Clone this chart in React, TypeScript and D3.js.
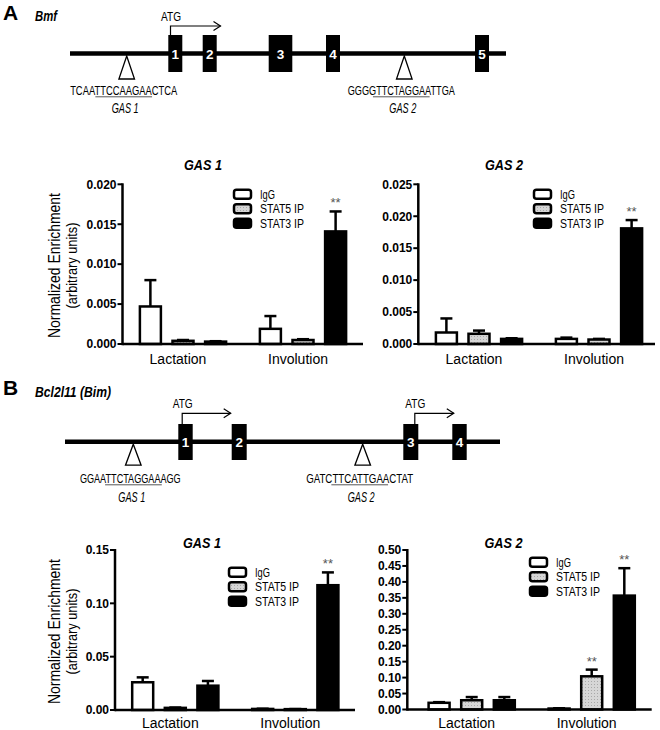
import React from "react";
import * as d3 from "d3";

// ---------- data ----------
const groups = ["Lactation", "Involution"];
const series = ["IgG", "STAT5 IP", "STAT3 IP"];

// order per array: [Lact IgG, Lact STAT5, Lact STAT3, Inv IgG, Inv STAT5, Inv STAT3]
const bmfGas1Mean = [0.0047, 0.0004, 0.0003, 0.0019, 0.0005, 0.0141];
const bmfGas1Sem = [0.0033, 0.0001, 0.00005, 0.0016, 0.0001, 0.0025];
const bmfGas1Sig = ["", "", "", "", "", "**"];

const bmfGas2Mean = [0.0018, 0.0016, 0.0008, 0.0008, 0.0007, 0.0181];
const bmfGas2Sem = [0.0022, 0.0005, 0.0001, 0.0002, 0.0001, 0.0013];
const bmfGas2Sig = ["", "", "", "", "", "**"];

const bimGas1Mean = [0.026, 0.002, 0.0228, 0.001, 0.0008, 0.117];
const bimGas1Sem = [0.0046, 0.0003, 0.0044, 0.0002, 0.0001, 0.012];
const bimGas1Sig = ["", "", "", "", "", "**"];

const bimGas2Mean = [0.021, 0.029, 0.029, 0.003, 0.104, 0.357];
const bimGas2Sem = [0.002, 0.01, 0.01, 0.001, 0.021, 0.086];
const bimGas2Sig = ["", "", "", "", "**", "**"];

const bmfTicks = [0, 0.005, 0.01, 0.015, 0.02];
const bmfTicks2 = [0, 0.005, 0.01, 0.015, 0.02, 0.025];
const bimTicks1 = [0, 0.05, 0.1, 0.15];
const bimTicks2 = [0, 0.05, 0.1, 0.15, 0.2, 0.25, 0.3, 0.35, 0.4, 0.45, 0.5];

// gene maps (positions along the gene line)
const bmfExons = [[98.3, 112.3], [132.7, 146.7], [198.7, 222.3], [256, 270], [405, 419]];
const bmfGasPos = [56.7, 334.3];
const bmfAtg = [100];
const bmfSeqs = [["TCAA", "TTCCAAGAA", "CTCA"], ["GGGG", "TTCTAGGAA", "TTGA"]];
const bmfLength = 436;

const bimExons = [[113.3, 127.7], [166.7, 181.7], [338.3, 353.3], [387.3, 401.7]];
const bimGasPos = [68.3, 297.7];
const bimAtg = [116.7, 349.3];
const bimSeqs = [["GGAA", "TTCTAGGAA", "AGG"], ["GATC", "TTCATTGAA", "CTAT"]];
const bimLength = 435;

const gasNames = ["GAS 1", "GAS 2"];

const FONT = "Arial, 'Liberation Sans', sans-serif";

type ChartCfg = {
  title: string;
  mean: number[];
  sem: number[];
  sig: string[];
  ticks: number[];
  fmt: string;
  axisX: number;
  yTop: number;
  yBottom: number;
  xEnd: number;
  groupStart: number;
  titleX: number;
  titleY: number;
  legendX: number;
  legendY: number;
  xLabelY: number;
  yLabel?: number;
};

const Chart = ({ c }: { c: ChartCfg }) => {
  const yMax = c.ticks[c.ticks.length - 1];
  const y = d3.scaleLinear().domain([0, yMax]).range([c.yBottom, c.yTop]);
  const xg = d3.scaleBand<string>().domain(groups).range([c.groupStart, c.groupStart + 240]);
  const xs = d3
    .scaleBand<string>()
    .domain(series)
    .range([0, xg.bandwidth()])
    .paddingInner(0.356)
    .paddingOuter(0.518);
  const fmt = d3.format(c.fmt);
  const fills = ["#ffffff", "url(#dots)", "#000000"];
  const legendLen = [15, 44, 44];
  const bars: any[] = [];
  groups.forEach((g, gi) =>
    series.forEach((s, si) => {
      const i = gi * 3 + si;
      bars.push({ g, s, si, m: c.mean[i], e: c.sem[i], sig: c.sig[i] });
    })
  );
  return (
    <g fontFamily={FONT}>
      <text
        x={c.titleX}
        y={c.titleY}
        fontSize={14.5}
        fontWeight="bold"
        fontStyle="italic"
        textAnchor="middle"
        textLength={38}
        lengthAdjust="spacingAndGlyphs"
      >
        {c.title}
      </text>
      {c.yLabel !== undefined && (
        <g>
          <text
            transform={`translate(60,${c.yLabel}) rotate(-90)`}
            fontSize={16.5}
            textAnchor="middle"
            textLength={145}
            lengthAdjust="spacingAndGlyphs"
          >
            Normalized Enrichment
          </text>
          <text
            transform={`translate(77,${c.yLabel}) rotate(-90)`}
            fontSize={14}
            textAnchor="middle"
            textLength={86}
            lengthAdjust="spacingAndGlyphs"
          >
            (arbitrary units)
          </text>
        </g>
      )}
      {bars.map((b, i) => {
        const x0 = (xg(b.g) as number) + (xs(b.s) as number);
        const w = xs.bandwidth();
        const cx = x0 + w / 2;
        const top = y(b.m);
        const et = y(b.m + b.e);
        return (
          <g key={i}>
            <line x1={cx} x2={cx} y1={top} y2={et} stroke="#000" strokeWidth={2.5} />
            <line x1={cx - 6} x2={cx + 6} y1={et} y2={et} stroke="#000" strokeWidth={2.5} />
            <rect
              x={x0}
              y={top}
              width={w}
              height={Math.max(0.3, c.yBottom - top)}
              fill={fills[b.si]}
              stroke="#000"
              strokeWidth={2.5}
            />
            {b.sig && (
              <text x={cx} y={et - 4} fontSize={13} fill="#555" textAnchor="middle">
                {b.sig}
              </text>
            )}
          </g>
        );
      })}
      <line x1={c.axisX} x2={c.axisX} y1={c.yTop - 1} y2={c.yBottom + 1.2} stroke="#000" strokeWidth={2.5} />
      <line x1={c.axisX} x2={c.xEnd} y1={c.yBottom} y2={c.yBottom} stroke="#000" strokeWidth={2.5} />
      {c.ticks.map((t) => (
        <g key={t}>
          <line x1={c.axisX - 5} x2={c.axisX} y1={y(t)} y2={y(t)} stroke="#000" strokeWidth={2} />
          <text x={c.axisX - 6} y={y(t) + 4.3} fontSize={12} fontWeight="bold" textAnchor="end">
            {fmt(t)}
          </text>
        </g>
      ))}
      {groups.map((g) => (
        <text
          key={g}
          x={(xg(g) as number) + xg.bandwidth() / 2 - 5}
          y={c.xLabelY}
          fontSize={14}
          textAnchor="middle"
        >
          {g}
        </text>
      ))}
      {series.map((s, si) => (
        <g key={s}>
          <rect
            x={c.legendX + 1}
            y={c.legendY + si * 14.5 - 4.5}
            width={17}
            height={9}
            rx={2.5}
            fill={fills[si]}
            stroke="#000"
            strokeWidth={2.5}
          />
          <text
            x={c.legendX + 27}
            y={c.legendY + si * 14.5 + 4.5}
            fontSize={12.5}
            textLength={legendLen[si]}
            lengthAdjust="spacingAndGlyphs"
          >
            {s}
          </text>
        </g>
      ))}
    </g>
  );
};

type MapCfg = {
  x0: number;
  lineY: number;
  length: number;
  exons: number[][];
  exonTop: number;
  exonBottom: number;
  gasPos: number[];
  atg: number[];
  seqs: string[][];
  seqBaseline: number;
  gasBaseline: number;
  atgY: number;
  atgLen: number[];
  triH: number;
};

const GeneMap = ({ m }: { m: MapCfg }) => {
  const x = d3.scaleLinear().domain([0, m.length]).range([m.x0, m.x0 + m.length]);
  return (
    <g fontFamily={FONT}>
      <line x1={x(0)} x2={x(m.length)} y1={m.lineY} y2={m.lineY} stroke="#000" strokeWidth={4.5} />
      {m.atg.map((a, i) => {
        const ax = x(a) + 0.5;
        const ex = ax + m.atgLen[i];
        return (
          <g key={i}>
            <path
              d={`M${ax},${m.exonTop} V${m.atgY} H${ex}`}
              fill="none"
              stroke="#000"
              strokeWidth={1.2}
            />
            <path d={`M${ex - 7},${m.atgY - 4.5} L${ex},${m.atgY} L${ex - 7},${m.atgY + 4.5}`} fill="none" stroke="#000" strokeWidth={1.2} />
            <text
              x={ax + 0.5}
              y={m.atgY - 5}
              fontSize={12}
              textAnchor="middle"
              textLength={20}
              lengthAdjust="spacingAndGlyphs"
            >
              ATG
            </text>
          </g>
        );
      })}
      {m.exons.map((e, i) => (
        <g key={i}>
          <rect x={x(e[0])} y={m.exonTop} width={x(e[1]) - x(e[0])} height={m.exonBottom - m.exonTop} fill="#000" />
          <text
            x={(x(e[0]) + x(e[1])) / 2}
            y={m.lineY + 5}
            fontSize={13.5}
            fontWeight="bold"
            fill="#fff"
            textAnchor="middle"
          >
            {i + 1}
          </text>
        </g>
      ))}
      {m.gasPos.map((g, i) => {
        const gx = x(g);
        const top = m.lineY + 2.5;
        const seq = m.seqs[i];
        const full = seq.join("");
        const n = full.length;
        const L = n * 6.3;
        const left = gx - 3 - L / 2;
        const u0 = left + (L * seq[0].length) / n;
        const u1 = left + (L * (seq[0].length + seq[1].length)) / n;
        return (
          <g key={i}>
            <path
              d={`M${gx},${top} L${gx + 7.8},${top + m.triH} L${gx - 7.8},${top + m.triH} Z`}
              fill="#fff"
              stroke="#000"
              strokeWidth={1.3}
            />
            <text
              x={gx - 3}
              y={m.seqBaseline}
              fontSize={12.5}
              textAnchor="middle"
              textLength={L}
              lengthAdjust="spacingAndGlyphs"
            >
              {full}
            </text>
            <line x1={u0} x2={u1} y1={m.seqBaseline + 1.8} y2={m.seqBaseline + 1.8} stroke="#444" strokeWidth={0.9} />
            <text
              x={gx - 1.5}
              y={m.gasBaseline}
              fontSize={14}
              fontStyle="italic"
              textAnchor="middle"
              textLength={27}
              lengthAdjust="spacingAndGlyphs"
            >
              {gasNames[i]}
            </text>
          </g>
        );
      })}
    </g>
  );
};

const charts: ChartCfg[] = [
  {
    title: "GAS 1", mean: bmfGas1Mean, sem: bmfGas1Sem, sig: bmfGas1Sig, ticks: bmfTicks, fmt: ".3f",
    axisX: 122.5, yTop: 184.3, yBottom: 344, xEnd: 363, groupStart: 123, titleX: 203, titleY: 170,
    legendX: 233, legendY: 194.3, xLabelY: 364, yLabel: 265.5,
  },
  {
    title: "GAS 2", mean: bmfGas2Mean, sem: bmfGas2Sem, sig: bmfGas2Sig, ticks: bmfTicks2, fmt: ".3f",
    axisX: 418.3, yTop: 184.3, yBottom: 344, xEnd: 655, groupStart: 419, titleX: 504, titleY: 170,
    legendX: 533, legendY: 194.3, xLabelY: 364,
  },
  {
    title: "GAS 1", mean: bimGas1Mean, sem: bimGas1Sem, sig: bimGas1Sig, ticks: bimTicks1, fmt: ".2f",
    axisX: 115, yTop: 550, yBottom: 710, xEnd: 355, groupStart: 115.3, titleX: 202, titleY: 548,
    legendX: 228, legendY: 572.3, xLabelY: 728, yLabel: 631.5,
  },
  {
    title: "GAS 2", mean: bimGas2Mean, sem: bimGas2Sem, sig: bimGas2Sig, ticks: bimTicks2, fmt: ".2f",
    axisX: 407.3, yTop: 550, yBottom: 709.5, xEnd: 651.7, groupStart: 411.7, titleX: 503.5, titleY: 548,
    legendX: 529, legendY: 562.3, xLabelY: 728,
  },
];

const maps: MapCfg[] = [
  {
    x0: 70, lineY: 53.5, length: bmfLength, exons: bmfExons, exonTop: 35, exonBottom: 72, gasPos: bmfGasPos,
    atg: bmfAtg, seqs: bmfSeqs, seqBaseline: 95, gasBaseline: 113, atgY: 26, atgLen: [50], triH: 23,
  },
  {
    x0: 65, lineY: 441.7, length: bimLength, exons: bimExons, exonTop: 424, exonBottom: 460, gasPos: bimGasPos,
    atg: bimAtg, seqs: bimSeqs, seqBaseline: 483, gasBaseline: 502, atgY: 413.3, atgLen: [48.5, 39], triH: 21,
  },
];

export default function App() {
  return (
    <svg
      width={660}
      height={730}
      viewBox="0 0 660 730"
      style={{ position: "absolute", left: 0, top: 0, background: "#fff" }}
    >
      <defs>
        <pattern id="dots" width="3" height="3" patternUnits="userSpaceOnUse">
          <rect width="3" height="3" fill="#d6d6d6" />
          <rect width="1" height="1" fill="#a8a8a8" />
        </pattern>
      </defs>
      <rect width={660} height={730} fill="#fff" />
      <g fontFamily={FONT}>
        <text x={3} y={20} fontSize={21} fontWeight="bold">A</text>
        <text x={35} y={21} fontSize={14} fontWeight="bold" fontStyle="italic" textLength={22} lengthAdjust="spacingAndGlyphs">
          Bmf
        </text>
        <text x={3} y={395} fontSize={21} fontWeight="bold">B</text>
        <text x={35} y={396.5} fontSize={14} fontWeight="bold" fontStyle="italic" textLength={76} lengthAdjust="spacingAndGlyphs">
          Bcl2l11 (Bim)
        </text>
      </g>
      {maps.map((m, i) => (
        <GeneMap key={i} m={m} />
      ))}
      {charts.map((c, i) => (
        <Chart key={i} c={c} />
      ))}
    </svg>
  );
}
